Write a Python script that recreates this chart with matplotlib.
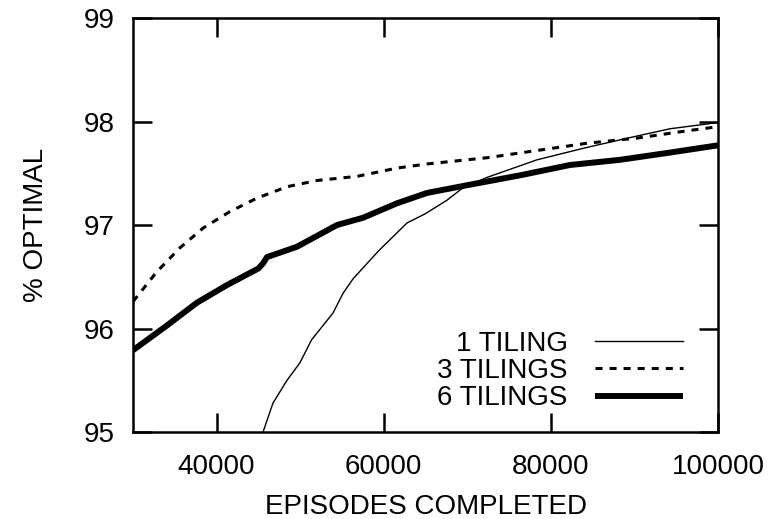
import matplotlib.pyplot as plt
from matplotlib.patches import Rectangle

plt.rcParams['font.family'] = ['Liberation Sans', 'DejaVu Sans']

# 1 tiling (thin line)
x_1 = [45560, 46750, 48430, 49980, 51360, 53930, 55130, 56330, 59380, 62790,
       65000, 67570, 69490, 72360, 78340, 84330, 90310, 94260, 100000]
y_1 = [95.00, 95.28, 95.50, 95.67, 95.89, 96.15, 96.34, 96.48, 96.75, 97.02,
       97.11, 97.24, 97.36, 97.46, 97.63, 97.75, 97.86, 97.93, 97.99]

# 3 tilings (dashed)
x_3 = [30000, 32870, 35620, 38380, 41600, 44840, 48430, 52020, 56800, 61590,
       65180, 72360, 78340, 84330, 90310, 96290, 100000]
y_3 = [96.26, 96.55, 96.78, 96.97, 97.13, 97.26, 97.37, 97.43, 97.47, 97.55,
       97.59, 97.65, 97.72, 97.79, 97.84, 97.91, 97.95]

# 6 tilings (thick)
x_6 = [30000, 34070, 37660, 41250, 45000, 45560, 46030, 49620, 54410, 57520,
       61590, 65180, 70330, 76310, 82290, 88280, 94260, 100000]
y_6 = [95.79, 96.03, 96.25, 96.42, 96.58, 96.63, 96.69, 96.79, 97.00, 97.07,
       97.21, 97.31, 97.39, 97.48, 97.58, 97.63, 97.70, 97.77]

x_ticks = [40000, 60000, 80000, 100000]
y_ticks = [95, 96, 97, 98, 99]

fig, ax = plt.subplots(figsize=(7.76, 5.19), dpi=100)
fig.subplots_adjust(left=0.1714, right=0.9253, top=0.9653, bottom=0.1676)

ax.plot(x_1, y_1, color='black', lw=1.0, label='1 TILING')
ax.plot(x_3, y_3, color='black', lw=2.2, dashes=(2.3, 2.3),
        dash_capstyle='butt', label='3 TILINGS')
ax.plot(x_6, y_6, color='black', lw=4.3, solid_capstyle='butt', label='6 TILINGS')

ax.set_xlim(30000, 100000)
ax.set_ylim(95, 99)
ax.set_xticks(x_ticks)
ax.set_yticks(y_ticks)
ax.set_xticklabels([str(t) for t in x_ticks])
ax.tick_params(direction='in', length=14, width=1.8, labelsize=20,
               top=True, right=True)
ax.tick_params(axis='x', pad=15.5)
ax.tick_params(axis='y', pad=13)
for s in ax.spines.values():
    s.set_linewidth(1.8)

ax.set_xlabel('EPISODES COMPLETED', fontsize=20, labelpad=10.5)
ax.set_ylabel('% OPTIMAL', fontsize=20, labelpad=25)

ax.legend(loc='lower right', bbox_to_anchor=(0.940, 0.05), frameon=False,
          markerfirst=False, fontsize=20, handlelength=3.15, handletextpad=1.0,
          labelspacing=0.05, borderpad=0, borderaxespad=0)

# the reference has the last tick label cut off near the right edge
fig.patches.append(Rectangle((763 / 776, 0), 1, 1, transform=fig.transFigure,
                             facecolor='white', edgecolor='none', zorder=10))

fig.savefig('out.png', dpi=100)
